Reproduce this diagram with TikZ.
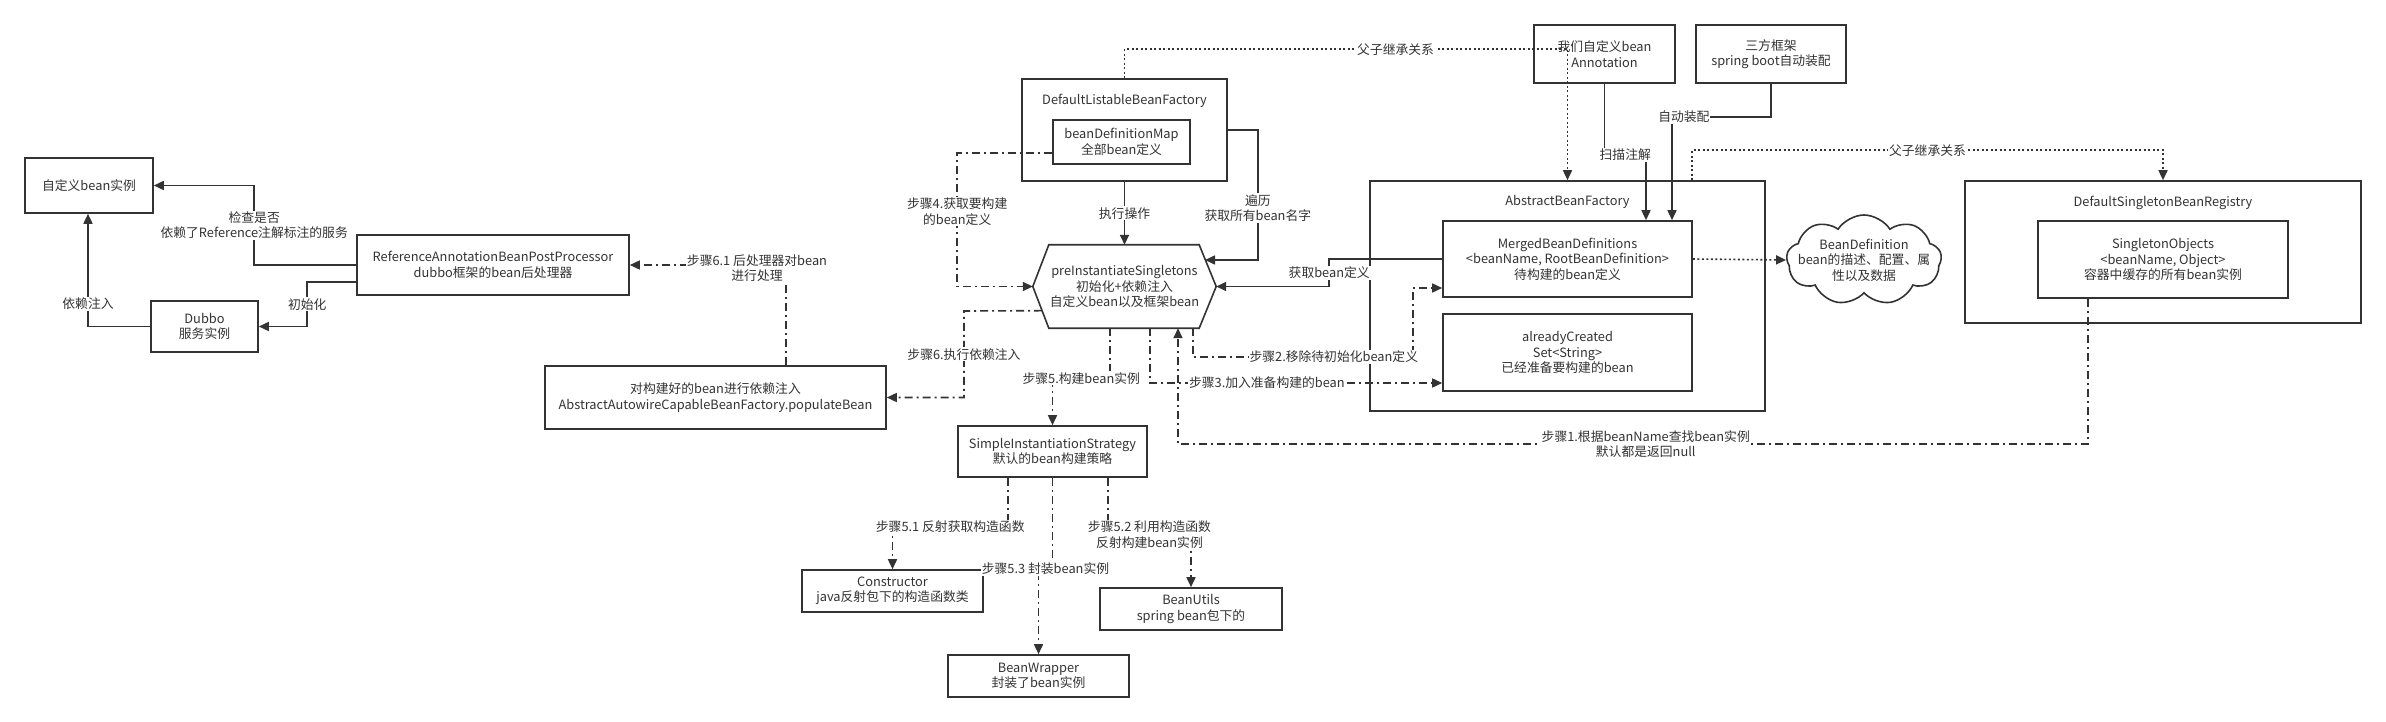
\documentclass[tikz,border=0pt]{standalone}
\usepackage{fontspec}
\setmainfont{Noto Sans CJK SC}
\usetikzlibrary{arrows.meta,calc,shapes.symbols}
\definecolor{ink}{HTML}{333333}
\begin{document}
\begin{tikzpicture}[x=1pt,y=-1pt,
  font=\fontsize{12.8}{15.5}\selectfont,
  box/.style={draw=ink, line width=1.6pt, text=ink, align=center, inner sep=2pt, fill=white},
  frame/.style={draw=ink, line width=1.6pt, inner sep=0pt},
  txt/.style={text=ink, align=center, inner sep=0pt},
  lbl/.style={fill=white, text=ink, align=center, inner sep=1pt},
  conn/.style={draw=ink, line width=1.6pt, -{Triangle[length=10pt,width=9pt]}},
  plainline/.style={draw=ink, line width=1.6pt},
  dd/.style={dash pattern=on 8pt off 4pt on 2pt off 4pt},
  dt/.style={dash pattern=on 2pt off 2.5pt}]
\useasboundingbox (0,0) rectangle (2386,722);

% outer frames
\node[frame, minimum width=205pt, minimum height=102pt] (dlbf) at (1124.5,130) {};
\node[txt] (dlbft) at (1124.5,101) {DefaultListableBeanFactory};
\node[frame, minimum width=395pt, minimum height=230pt] (abf) at (1567.5,296) {};
\node[txt] (abft) at (1567.5,202) {AbstractBeanFactory};
\node[frame, minimum width=396pt, minimum height=142pt] (dsbr) at (2163,252) {};
\node[txt] (dsbrt) at (2163,203) {DefaultSingletonBeanRegistry};

% boxes
\node[box, minimum width=128pt, minimum height=55pt] (cust) at (89,185.5) {自定义bean实例};
\node[box, minimum width=272pt, minimum height=60pt] (rabpp) at (493,265) {ReferenceAnnotationBeanPostProcessor\\dubbo框架的bean后处理器};
\node[box, minimum width=107pt, minimum height=51pt] (dubbo) at (204.5,326.5) {Dubbo\\服务实例};
\node[box, minimum width=341pt, minimum height=63pt] (populate) at (715.5,397.5) {对构建好的bean进行依赖注入\\AbstractAutowireCapableBeanFactory.populateBean};
\node[box, minimum width=137pt, minimum height=44pt] (bdm) at (1121.5,142) {beanDefinitionMap\\全部bean定义};
\node[box, minimum width=249pt, minimum height=76pt] (mbd) at (1567.5,259) {MergedBeanDefinitions\\<beanName, RootBeanDefinition>\\待构建的bean定义};
\node[box, minimum width=249pt, minimum height=77pt] (ac) at (1567.5,352.5) {alreadyCreated\\Set<String>\\已经准备要构建的bean};
\node[box, minimum width=141pt, minimum height=58pt] (anno) at (1604.5,54) {我们自定义bean\\Annotation};
\node[box, minimum width=150pt, minimum height=58pt] (third) at (1771,54) {三方框架\\spring boot自动装配};
\node[box, minimum width=250pt, minimum height=77pt] (so) at (2163,259.5) {SingletonObjects\\<beanName, Object>\\容器中缓存的所有bean实例};
\node[box, minimum width=189pt, minimum height=51pt] (sis) at (1052.5,451.5) {SimpleInstantiationStrategy\\默认的bean构建策略};
\node[box, minimum width=181pt, minimum height=42pt] (ctor) at (892.5,591) {Constructor\\java反射包下的构造函数类};
\node[box, minimum width=182pt, minimum height=42pt] (bu) at (1191,609) {BeanUtils\\spring bean包下的};
\node[box, minimum width=181pt, minimum height=42pt] (bw) at (1038.5,676) {BeanWrapper\\封装了bean实例};

% cloud
\node[cloud, draw=ink, line width=1.6pt, cloud puffs=9, cloud puff arc=115, aspect=1.6,
      minimum width=155pt, minimum height=90pt, inner sep=0pt] (cloud) at (1864,260) {};
\node[txt] (cloudt) at (cloud.center) {BeanDefinition\\bean的描述、配置、属\\性以及数据};

% hexagon
\node[txt, minimum width=183pt, minimum height=83pt] (hex) at (1124.5,286.5) {preInstantiateSingletons\\初始化+依赖注入\\自定义bean以及框架bean};
\draw[plainline, line join=miter] ($(hex.north west)+(16,0)$) -- ($(hex.north east)+(-17,0)$) -- (hex.east)
  -- ($(hex.south east)+(-17,0)$) -- ($(hex.south west)+(16,0)$) -- (hex.west) -- cycle;

% connectors (left part)
\draw[conn] (rabpp.west) -- ++(-102,0) |- node[lbl,pos=0.25]{检查是否\\依赖了Reference注解标注的服务} (cust.east);
\draw[conn] ($(rabpp.west)+(0,17)$) -- ++(-49,0) |- node[lbl,pos=0.25]{初始化} (dubbo.east);
\draw[conn] (dubbo.west) -| node[lbl,pos=0.6]{依赖注入} ($(cust.south)+(-1,0)$);
\draw[conn,dd] ($(populate.north)+(70.5,0)$) |- (rabpp.east);
\node[lbl] (l61) at (757,268) {步骤6.1 后处理器对bean\\进行处理};

% hexagon connectors
\coordinate (h6) at ($(hex.west)!0.58!($(hex.south west)+(16,0)$)$);
\draw[conn,dd] (h6) -- (964,311) |- node[lbl,pos=0.25]{步骤6.执行依赖注入} (populate.east);
\draw[conn,dd] ($(hex.south)+(-14.5,0)$) -- ++(0,50) -| node[lbl,pos=0.25]{步骤5.构建bean实例} (sis.north);
\draw[conn,dd] ($(hex.south)+(25.5,0)$) |- node[lbl,pos=0.7]{步骤3.加入准备构建的bean} ($(ac.west)+(0,30.5)$);
\draw[conn,dd] ($(hex.south)+(68.5,0)$) |- node[lbl,pos=0.82]{步骤2.移除待初始化bean定义} (1413,357) |- ($(mbd.west)+(0,29)$);
\draw[conn,dd] ($(so.south)+(-75,0)$) |- node[lbl,pos=0.743]{步骤1.根据beanName查找bean实例\\默认都是返回null} (1178,444) -- ($(hex.south)+(53.5,0)$);
\draw[conn] (dlbf.south) -- node[lbl]{执行操作} (hex.north);
\draw[conn] (dlbf.east) -- ++(30,0) |- node[lbl,pos=0.3]{遍历\\获取所有bean名字} (1205,260);
\draw[conn] (mbd.west) -- ++(-113,0) |- node[lbl,pos=0.25]{获取bean定义} (hex.east);
\draw[conn,dd] ($(bdm.west)+(0,11)$) -- ++(-95,0) |- node[lbl,pos=0.22]{步骤4.获取要构建\\的bean定义} (hex.west);

% top connectors
\draw[conn,dt] (dlbf.north) -- ++(0,-29) -| node[lbl,pos=0.306]{父子继承关系} (abf.north);
\draw[conn] (anno.south) -- ++(0,71) -| node[lbl,pos=0.25]{扫描注解} ($(mbd.north)+(78.5,0)$);
\draw[conn] (third.south) -- ++(0,33) -| node[lbl,pos=0.44]{自动装配} ($(mbd.north)+(104.5,0)$);
\draw[conn,dt] ($(abf.north)+(124.5,0)$) -- ++(0,-30) -| node[lbl,pos=0.25]{父子继承关系} (dsbr.north);
\draw[conn,dt] (mbd.east) -- (cloud.west);

% strategy connectors
\draw[conn,dd] ($(sis.south)+(-44.5,0)$) -- ++(0,49) -| node[lbl,pos=0.25]{步骤5.1 反射获取构造函数} (ctor.north);
\draw[conn,dd] ($(sis.south)+(55.5,0)$) -- ++(0,57) -| node[lbl,pos=0.25]{步骤5.2 利用构造函数\\反射构建bean实例} (bu.north);
\draw[conn,dd] (sis.south) -- ++(0,91) -| node[lbl,pos=0.25]{步骤5.3 封装bean实例} (bw.north);
\end{tikzpicture}
\end{document}
